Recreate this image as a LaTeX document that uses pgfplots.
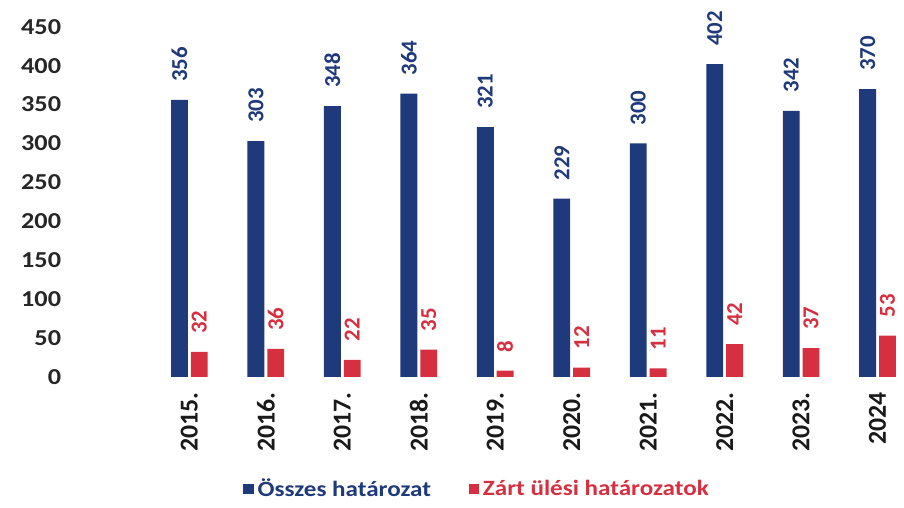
\documentclass[border=0pt]{standalone}
\usepackage{fontspec}
\setmainfont{Carlito}
\newfontfamily\widefont[FakeStretch=1.15]{Carlito}
\usepackage{pgfplots}
\pgfplotsset{compat=1.18}
\definecolor{navy}{HTML}{1E3A7B}
\definecolor{crim}{HTML}{D62F40}

\begin{document}
\begin{tikzpicture}
\begin{axis}[
    width=417pt, height=176.5pt, scale only axis,
    xmin=-1.569, xmax=9.248,
    ymin=0, ymax=450,
    clip=false,
    axis line style={draw=none},
    major tick length=0pt,
    /pgf/number format/assume math mode=true,
    ytick={0,50,...,450},
    yticklabel style={font=\widefont\bfseries\fontsize{11.5}{12}\selectfont,
        text=black!85, inner sep=0pt, anchor=east, xshift=-4pt},
    xtick={0,...,9},
    xticklabels={2015.,2016.,2017.,2018.,2019.,2020.,2021.,2022.,2023.,2024},
    xticklabel style={font=\bfseries\fontsize{13}{14}\selectfont,
        text=black!90, inner sep=0pt, yshift=-7.5pt, rotate=90, anchor=east},
    ybar, bar width=8.5pt,
    nodes near coords,
    every node near coord/.append style={font=\bfseries\fontsize{11.5}{12}\selectfont,
        inner sep=0pt, yshift=9pt, rotate=90, anchor=west},
    legend style={at={(0.494,-0.32)}, anchor=center, draw=none, fill=none,
        legend columns=2, font=\widefont\bfseries\fontsize{11}{12}\selectfont,
        /tikz/every even column/.append style={column sep=17pt}},
    legend image code/.code={\fill[#1] (0pt,-2.6pt) rectangle (5.2pt,2.6pt);},
]
% Összes határozat
\addplot[fill=navy, draw=none, bar shift=-5pt,
    nodes near coords style={text=navy}] coordinates {
    (0,356) (1,303) (2,348) (3,364) (4,321)
    (5,229) (6,300) (7,402) (8,342) (9,370)
};
\addlegendentry{\textcolor{navy}{Összes határozat}}
% Zárt ülési határozatok
\addplot[fill=crim, draw=none, bar shift=5pt,
    nodes near coords style={text=crim}] coordinates {
    (0,32) (1,36) (2,22) (3,35) (4,8)
    (5,12) (6,11) (7,42) (8,37) (9,53)
};
\addlegendentry{\textcolor{crim}{Zárt ülési határozatok}}
\path (rel axis cs:-0.0839,-0.3683) rectangle (rel axis cs:1.009,1.0765);
\end{axis}
\end{tikzpicture}
\end{document}
